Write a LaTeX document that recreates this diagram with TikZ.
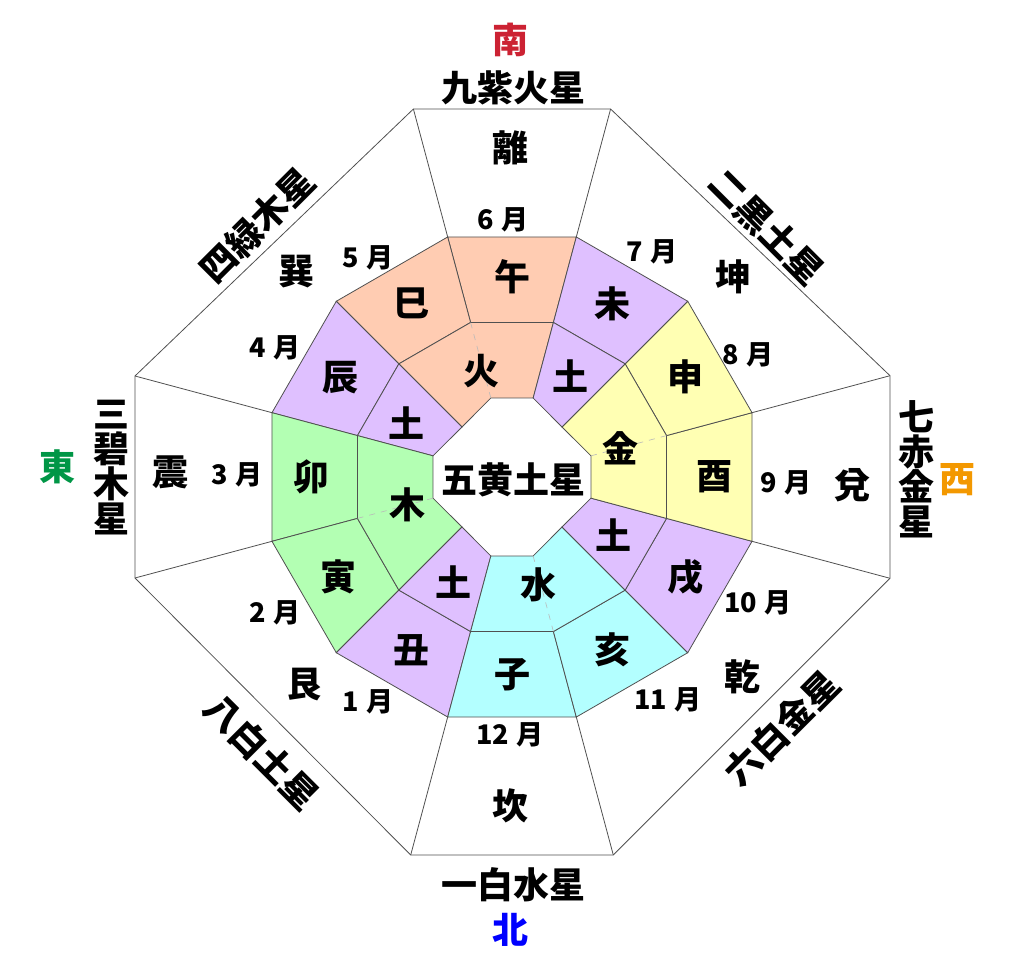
\documentclass[tikz,border=0pt]{standalone}
\usepackage{fontspec}
\setmainfont{Noto Sans CJK JP}
\usepackage{color}
\definecolor{kasei}{RGB}{255,204,178}
\definecolor{dosei}{RGB}{223,192,255}
\definecolor{kinsei}{RGB}{255,255,179}
\definecolor{mokusei}{RGB}{179,255,179}
\definecolor{suisei}{RGB}{179,255,255}
\definecolor{sen}{RGB}{80,80,80}
\definecolor{minami}{RGB}{204,34,51}
\definecolor{higashi}{RGB}{0,150,70}
\definecolor{nishi}{RGB}{243,152,0}
\definecolor{kita}{RGB}{0,0,255}
\newcommand{\gatsu}[1]{#1\hspace{0.3em}月}

\begin{document}
\begin{tikzpicture}[x=1pt,y=1pt,line width=0.8pt,
  ji/.style={font=\fontsize{36}{35}\selectfont\bfseries,inner sep=0pt,align=center},
  tsuki/.style={font=\fontsize{27}{27}\selectfont\bfseries,inner sep=0pt},
  sakai/.style={draw=gray!55,line width=0.6pt,dash pattern=on 6pt off 6pt}]
\useasboundingbox (-512,-486) rectangle (512,477);

% outer ring
\filldraw[fill=kasei,draw=sen] (75:248.5) -- (105:248.5) -- (105:160) -- (75:160) -- cycle;
\filldraw[fill=kasei,draw=sen] (105:248.5) -- (135:248.5) -- (135:160) -- (105:160) -- cycle;
\filldraw[fill=dosei,draw=sen] (135:248.5) -- (165:248.5) -- (165:160) -- (135:160) -- cycle;
\filldraw[fill=mokusei,draw=sen] (165:248.5) -- (195:248.5) -- (195:160) -- (165:160) -- cycle;
\filldraw[fill=mokusei,draw=sen] (195:248.5) -- (225:248.5) -- (225:160) -- (195:160) -- cycle;
\filldraw[fill=dosei,draw=sen] (225:248.5) -- (255:248.5) -- (255:160) -- (225:160) -- cycle;
\filldraw[fill=suisei,draw=sen] (255:248.5) -- (285:248.5) -- (285:160) -- (255:160) -- cycle;
\filldraw[fill=suisei,draw=sen] (285:248.5) -- (315:248.5) -- (315:160) -- (285:160) -- cycle;
\filldraw[fill=dosei,draw=sen] (315:248.5) -- (345:248.5) -- (345:160) -- (315:160) -- cycle;
\filldraw[fill=kinsei,draw=sen] (-15:248.5) -- (15:248.5) -- (15:160) -- (-15:160) -- cycle;
\filldraw[fill=kinsei,draw=sen] (15:248.5) -- (45:248.5) -- (45:160) -- (15:160) -- cycle;
\filldraw[fill=dosei,draw=sen] (45:248.5) -- (75:248.5) -- (75:160) -- (45:160) -- cycle;

% middle ring
\filldraw[fill=kasei,draw=sen] (75:160) -- (105:160) -- (135:160) -- (135:70.7) -- (105:81.8) -- (75:81.8) -- cycle;
\filldraw[fill=dosei,draw=sen] (135:160) -- (165:160) -- (165:81.8) -- (135:70.7) -- cycle;
\filldraw[fill=mokusei,draw=sen] (165:160) -- (195:160) -- (225:160) -- (225:70.7) -- (195:81.8) -- (165:81.8) -- cycle;
\filldraw[fill=dosei,draw=sen] (225:160) -- (255:160) -- (255:81.8) -- (225:70.7) -- cycle;
\filldraw[fill=suisei,draw=sen] (255:160) -- (285:160) -- (315:160) -- (315:70.7) -- (285:81.8) -- (255:81.8) -- cycle;
\filldraw[fill=dosei,draw=sen] (315:160) -- (345:160) -- (345:81.8) -- (315:70.7) -- cycle;
\filldraw[fill=kinsei,draw=sen] (-15:160) -- (15:160) -- (45:160) -- (45:70.7) -- (15:81.8) -- (-15:81.8) -- cycle;
\filldraw[fill=dosei,draw=sen] (45:160) -- (75:160) -- (75:81.8) -- (45:70.7) -- cycle;
\draw[sakai] (105:81.8) -- (105:160);
\draw[sakai] (195:81.8) -- (195:160);
\draw[sakai] (285:81.8) -- (285:160);
\draw[sakai] (15:81.8) -- (15:160);

% outer octagon
\draw[sen] (98.6,368) -- (-98.6,368) -- (-377,101) -- (-377,-101) -- (-101.3,-378) -- (101.3,-378) -- (378,-101.3) -- (378,101.3) -- cycle;
\draw[sen] (75:248.5) -- (98.6,368);
\draw[sen] (105:248.5) -- (-98.6,368);
\draw[sen] (165:248.5) -- (-377,101);
\draw[sen] (195:248.5) -- (-377,-101);
\draw[sen] (255:248.5) -- (-101.3,-378);
\draw[sen] (285:248.5) -- (101.3,-378);
\draw[sen] (345:248.5) -- (378,-101.3);
\draw[sen] (15:248.5) -- (378,101.3);

% twelve branches
\node[ji] (uma) at (90:200) {午};
\node[ji] (hitsuji) at (60:200) {未};
\node[ji] (saru) at (30:200) {申};
\node[ji] (tori) at (0:202) {酉};
\node[ji] (inu) at (-30:200) {戌};
\node[ji] (i) at (-60:200) {亥};
\node[ji] (ne) at (-90:198) {子};
\node[ji] (ushi) at (-120:200) {丑};
\node[ji] (tora) at (-150:200) {寅};
\node[ji] (u) at (180:200) {卯};
\node[ji] (tatsu) at (150:198) {辰};
\node[ji] (mi) at (120:200) {巳};

% elements
\node[ji] (hi) at (106:110) {火};
\node[ji] (tsuchi1) at (60:117) {土};
\node[ji] (kane) at (15:112) {金};
\node[ji] (tsuchi2) at (-30:117) {土};
\node[ji] (mizu) at (-76:111) {水};
\node[ji] (tsuchi3) at (-119:120) {土};
\node[ji] (ki) at (195:108) {木};
\node[ji] (tsuchi4) at (153:118) {土};
\node[ji] (chuo) at (1,-3) {五黄土星};

% months
\node[tsuki] (m6) at (-9,257) {\gatsu{6}};
\node[tsuki] (m7) at (140,225) {\gatsu{7}};
\node[tsuki] (m8) at (236,122) {\gatsu{8}};
\node[tsuki] (m9) at (274,-6) {\gatsu{9}};
\node[tsuki] (m10) at (246,-126) {\gatsu{10}};
\node[tsuki] (m11) at (156,-223) {\gatsu{11}};
\node[tsuki] (m12) at (-2,-258) {\gatsu{12}};
\node[tsuki] (m1) at (-144,-225) {\gatsu{1}};
\node[tsuki] (m2) at (-237,-136) {\gatsu{2}};
\node[tsuki] (m3) at (-275,2) {\gatsu{3}};
\node[tsuki] (m4) at (-237,129) {\gatsu{4}};
\node[tsuki] (m5) at (-144,219) {\gatsu{5}};

% trigrams
\node[ji] (ri) at (-2,329) {離};
\node[ji] (kon) at (221,200) {坤};
\node[ji] (da) at (340,-8) {兌};
\node[ji] (ken) at (230,-200) {乾};
\node[ji] (kan) at (-2,-329) {坎};
\node[ji] (gon) at (-207,-208) {艮};
\node[ji] (shin) at (-341,5) {震};
\node[ji] (son) at (-215,205) {巽};

% stars
\node[ji] (kyu) at (1,389) {九紫火星};
\node[ji,rotate=-45] (ji2) at (255,250) {二黒土星};
\node[ji] (shichi) at (404,8) {七\\赤\\金\\星};
\node[ji,rotate=45] (roku) at (270,-251) {六白金星};
\node[ji] (ichi) at (1,-408) {一白水星};
\node[ji,rotate=-45] (hachi) at (-250,-275) {八白土星};
\node[ji] (san) at (-400,9) {三\\碧\\木\\星};
\node[ji,rotate=45] (yon) at (-255,252) {四緑木星};

% directions
\node[ji,text=minami] (s) at (-2,437) {南};
\node[ji,text=kita] (n) at (-2,-453) {北};
\node[ji,text=higashi] (e) at (-454,10) {東};
\node[ji,text=nishi] (w) at (445,-3) {西};
\end{tikzpicture}
\end{document}
